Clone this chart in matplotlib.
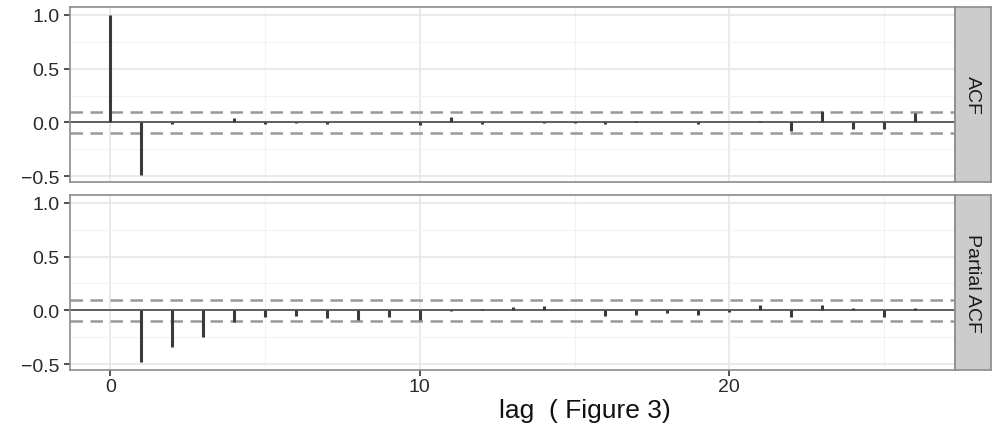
import numpy as np
import matplotlib.pyplot as plt
from matplotlib.ticker import MultipleLocator

plt.rcParams['font.family'] = ['Liberation Sans', 'DejaVu Sans']

# ACF, lags 0..26
acf_lags = np.arange(0, 27)
acf_vals = [1.0, -0.485, -0.015, 0.003, 0.045, -0.012, -0.003, -0.015, 0.002, 0.002,
            -0.02, 0.055, -0.015, 0.003, -0.002, -0.005, -0.015, 0.01, 0.002, -0.015,
            0.005, 0.015, -0.08, 0.105, -0.06, -0.06, 0.085]

# partial ACF, lags 1..26
pacf_lags = np.arange(1, 27)
pacf_vals = [-0.483, -0.336, -0.243, -0.109, -0.062, -0.05, -0.075, -0.093, -0.065, -0.093,
             -0.003, 0.012, 0.035, 0.042, 0.0, -0.05, -0.047, -0.025, -0.047, -0.015,
             0.047, -0.065, 0.053, 0.022, -0.065, 0.022]

ci = 0.098
strips = ['ACF', 'Partial ACF']

fig = plt.figure(figsize=(9.95, 4.35), dpi=100)
ax1 = fig.add_axes([0.0704, 0.579, 0.8896, 0.403])
ax2 = fig.add_axes([0.0704, 0.147, 0.8896, 0.403])

for ax, lags, vals, lab in [(ax1, acf_lags, acf_vals, strips[0]),
                             (ax2, pacf_lags, pacf_vals, strips[1])]:
    ax.set_xlim(-1.3, 27.3)
    ax.set_ylim(-0.554, 1.074)
    ax.xaxis.set_major_locator(MultipleLocator(10))
    ax.xaxis.set_minor_locator(MultipleLocator(5))
    ax.set_yticks([-0.5, 0.0, 0.5, 1.0])
    ax.yaxis.set_minor_locator(MultipleLocator(0.25))
    ax.grid(which='major', color='#e6e6e6', lw=1.2)
    ax.grid(which='minor', color='#f2f2f2', lw=0.8)
    ax.set_axisbelow(True)
    ax.axhline(0, color='#555555', lw=1.3, zorder=2)
    ax.axhline(ci, color='#999999', lw=1.8, ls=(0, (5, 3)), zorder=2)
    ax.axhline(-ci, color='#999999', lw=1.8, ls=(0, (5, 3)), zorder=2)
    ax.vlines(lags, 0, vals, color='#3a3a3a', lw=2.2, zorder=3)
    for s in ax.spines.values():
        s.set_color('#8c8c8c')
        s.set_linewidth(1.2)
    ax.tick_params(axis='both', which='major', labelsize=14, colors='#333333',
                   length=4, width=1.2, labelcolor='#2a2a2a')
    ax.tick_params(which='minor', length=0)
    ax.set_yticklabels(['\u22120.5', '0.0', '0.5', '1.0'])
    # facet strip
    strip = ax.inset_axes([1.0, 0.0, 0.04, 1.0])
    strip.set_facecolor('#cccccc')
    strip.set_xticks([])
    strip.set_yticks([])
    for s in strip.spines.values():
        s.set_color('#8c8c8c')
        s.set_linewidth(1.2)
    strip.text(0.5, 0.5, lab, rotation=-90, ha='center', va='center',
               fontsize=14, color='#1a1a1a', transform=strip.transAxes)

ax1.tick_params(axis='x', labelbottom=False, length=0)
ax2.tick_params(axis='x', pad=2)
ax2.set_xlabel('lag  ( Figure 3)', fontsize=19, color='#111111')
ax2.xaxis.set_label_coords(0.582, -0.16)

fig.savefig('out.png', dpi=100)
